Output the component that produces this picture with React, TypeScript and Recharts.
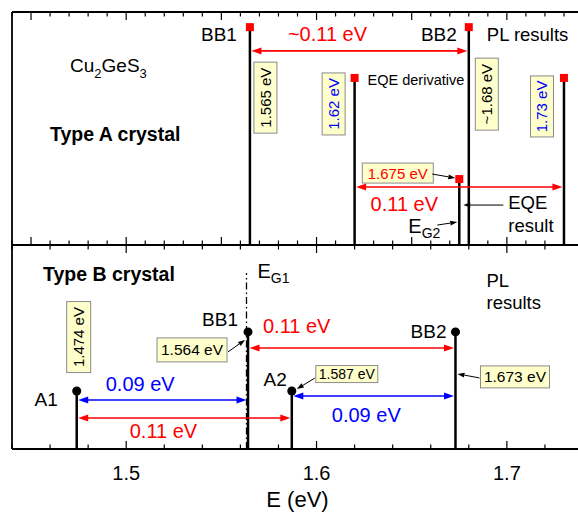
import React from 'react'
import { ComposedChart, XAxis, YAxis, Scatter, ReferenceLine, ReferenceDot } from 'recharts'

const FONT = '"Liberation Sans", Arial, Helvetica, sans-serif'
const RED = '#ff0000'
const BLUE = '#0000ff'

// Type A crystal: PL bands, EQE derivative peaks and EQE edge
const plPeaksA = ['BB1', 'BB2']
const plEnergyA = [1.565, 1.68]
const plHeightA = [93.5, 93.5]
const eqeDerivEnergyA = [1.62, 1.73]
const eqeDerivHeightA = [71.7, 71.7]
const eqeResultEnergyA = [1.675]
const eqeResultHeightA = [28.3]

// Type B crystal: PL bands and the E_G1 marker
const plPeaksB = ['A1', 'BB1', 'A2', 'BB2']
const plEnergyB = [1.474, 1.564, 1.587, 1.673]
const plHeightB = [28.4, 57.4, 28.4, 57.4]
const eg1Energy = 1.5632
const eg1Height = 86.3

// energy-gap arrows (levels in panel units)
const gapLevelA = [83.3, 24.9]
const gapLevelB = [49.5, 24.0, 15.2, 26.0]

const xDomain: [number, number] = [1.44, 1.74]
const majorTicksA = [1.45, 1.5, 1.55, 1.6, 1.65, 1.7]
const majorTicksB = [1.5, 1.6, 1.7]
const tickLabelsB = ['1.5', '1.6', '1.7']

const tickRange = (from: number, to: number, step: number) => {
  const n = Math.round((to - from) / step)
  const out: number[] = []
  for (let i = 0; i <= n; i++) out.push(Math.round((from + i * step) * 1000) / 1000)
  return out
}
const minorTicksA = tickRange(1.44, 1.74, 0.01)
const minorTicksB = tickRange(1.44, 1.74, 0.02)

const toPoints = (xs: number[], ys: number[]) => xs.map((e, i) => ({ e, h: ys[i] }))

const pointsA = [
  ...toPoints(plEnergyA, plHeightA),
  ...toPoints(eqeDerivEnergyA, eqeDerivHeightA),
  ...toPoints(eqeResultEnergyA, eqeResultHeightA),
]
const pointsB = toPoints(plEnergyB, plHeightB)

function Tag({ x, y, w, h, text, color = '#000', size = 15, vertical = false }: any) {
  return (
    <g>
      <rect x={x - w / 2} y={y - h / 2} width={w} height={h} fill="#ffffcc" stroke="#8a8a8a" strokeWidth={1} />
      <text
        x={x}
        y={y}
        transform={vertical ? `rotate(-90 ${x} ${y})` : undefined}
        textAnchor="middle"
        dominantBaseline="central"
        fill={color}
        fontSize={size}
        fontFamily={FONT}
      >
        {text}
      </text>
    </g>
  )
}

function Pointer({ x1, y1, x2, y2 }: any) {
  const a = Math.atan2(y2 - y1, x2 - x1)
  const L = 7
  const W = 2.5
  const bx = x2 - L * Math.cos(a)
  const by = y2 - L * Math.sin(a)
  return (
    <g>
      <line x1={x1} y1={y1} x2={bx} y2={by} stroke="#000" strokeWidth={1} />
      <polygon
        points={`${x2},${y2} ${bx - W * Math.sin(a)},${by + W * Math.cos(a)} ${bx + W * Math.sin(a)},${by - W * Math.cos(a)}`}
        fill="#000"
      />
    </g>
  )
}

function Txt({ x, y, children, size = 19, color = '#000', anchor = 'start', bold = false }: any) {
  return (
    <text x={x} y={y} fontSize={size} fill={color} textAnchor={anchor} fontFamily={FONT} fontWeight={bold ? 'bold' : 'normal'}>
      {children}
    </text>
  )
}

const doubleArrow = (color: string) => (p: any) => {
  const { x1, y1, x2 } = p
  const L = 10
  const W = 3.5
  return (
    <g>
      <line x1={x1 + L} y1={y1} x2={x2 - L} y2={y1} stroke={color} strokeWidth={1.6} />
      <polygon points={`${x1 + 1.5},${y1} ${x1 + 1.5 + L},${y1 - W} ${x1 + 1.5 + L},${y1 + W}`} fill={color} />
      <polygon points={`${x2 - 1.5},${y1} ${x2 - 1.5 - L},${y1 - W} ${x2 - 1.5 - L},${y1 + W}`} fill={color} />
    </g>
  )
}

// tick marks drawn inward from the frame; long ones on the major values
const frameTick = (major: number[], dir: number, labels?: string[]) => (p: any) => {
  const v = p.payload.value
  const mi = major.findIndex(m => Math.abs(m - v) < 1e-6)
  const len = mi >= 0 ? 8 : 4.5
  return (
    <g>
      <line x1={p.x} y1={p.y} x2={p.x} y2={p.y + dir * len} stroke="#000" strokeWidth={1.2} />
      {labels && mi >= 0 && (
        <text x={p.x} y={p.y + 31} textAnchor="middle" fontSize={20} fill="#000" fontFamily={FONT}>
          {labels[mi]}
        </text>
      )}
    </g>
  )
}

const note = (key: string, x: number, y: number, draw: (cx: number, cy: number) => React.ReactNode) => (
  <ReferenceDot
    key={key}
    x={x}
    y={y}
    r={0}
    ifOverflow="visible"
    shape={(p: any) => <g>{draw(p.cx, p.cy)}</g>}
  />
)

const stick = (key: string, e: number, h: number) => (
  <ReferenceLine
    key={key}
    segment={[{ x: e, y: 0 }, { x: e, y: h }]}
    stroke="#000"
    strokeWidth={2.5}
  />
)

const gap = (key: string, from: number, to: number, level: number, color: string) => (
  <ReferenceLine
    key={key}
    segment={[{ x: from, y: level }, { x: to, y: level }]}
    stroke={color}
    shape={doubleArrow(color)}
  />
)

const axisLine = { stroke: '#000', strokeWidth: 1.8 }

function TypeAPanel() {
  const [bb1, bb2] = plEnergyA
  const [d1, d2] = eqeDerivEnergyA
  const eqe = eqeResultEnergyA[0]
  return (
    <ComposedChart width={600} height={250} data={pointsA} margin={{ top: 0, right: 17, bottom: 0, left: 11 }}>
      <XAxis xAxisId={0} dataKey="e" type="number" domain={xDomain} allowDataOverflow ticks={minorTicksA} interval={0}
        orientation="bottom" height={5} tickSize={0} tickMargin={0} tickLine={false} axisLine={axisLine}
        tick={frameTick(majorTicksA, -1)} />
      <XAxis xAxisId="top" dataKey="e" type="number" domain={xDomain} allowDataOverflow ticks={minorTicksA} interval={0}
        orientation="top" height={12} tickSize={0} tickMargin={0} tickLine={false} axisLine={axisLine}
        tick={frameTick(majorTicksA, 1)} />
      <YAxis dataKey="h" type="number" domain={[0, 100]} width={1} tick={false} tickLine={false} axisLine={axisLine} />
      {plEnergyA.map((e, i) => stick(`pl${i}`, e, plHeightA[i]))}
      {eqeDerivEnergyA.map((e, i) => stick(`dv${i}`, e, eqeDerivHeightA[i]))}
      {eqeResultEnergyA.map((e, i) => stick(`eq${i}`, e, eqeResultHeightA[i]))}
      {gap('g0', bb1, bb2, gapLevelA[0], RED)}
      {gap('g1', d1, d2, gapLevelA[1], RED)}
      <Scatter data={pointsA} fill={RED} shape="square" isAnimationActive={false} />

      {note('corner', xDomain[0], 100, (cx, cy) => (
        <>
          <text x={cx + 58} y={cy + 60} fontSize={19} fontFamily={FONT}>
            Cu<tspan dy={6} fontSize={13}>2</tspan>
            <tspan dy={-6}>GeS</tspan>
            <tspan dy={6} fontSize={13}>3</tspan>
          </text>
          <Txt x={cx + 38} y={cy + 129} size={19.5} bold>Type A crystal</Txt>
        </>
      ))}
      {note('bb1', bb1, plHeightA[0], (cx, cy) => (
        <>
          <Txt x={cx - 13} y={cy + 14} anchor="end">{plPeaksA[0]}</Txt>
          <Tag x={cx + 15.5} y={cy + 70.5} w={23} h={71} text="1.565 eV" vertical />
        </>
      ))}
      {note('bb2', bb2, plHeightA[1], (cx, cy) => (
        <>
          <Txt x={cx - 12} y={cy + 14} anchor="end">{plPeaksA[1]}</Txt>
          <Txt x={cx + 18} y={cy + 14} size={18.5}>PL results</Txt>
          <Tag x={cx + 18} y={cy + 67} w={23} h={72} text="~1.68 eV" vertical />
        </>
      ))}
      {note('gA0', bb1, gapLevelA[0], (cx, cy) => (
        <Txt x={cx + 38} y={cy - 10} size={20} color={RED}>~0.11 eV</Txt>
      ))}
      {note('d1', d1, eqeDerivHeightA[0], (cx, cy) => (
        <>
          <Txt x={cx + 13} y={cy + 7} size={14.5}>EQE derivative</Txt>
          <Tag x={cx - 21} y={cy + 26} w={23} h={62} text="1.62 eV" color={BLUE} vertical />
        </>
      ))}
      {note('d2', d2, eqeDerivHeightA[1], (cx, cy) => (
        <Tag x={cx - 22} y={cy + 28.5} w={23} h={61} text="1.73 eV" color={BLUE} vertical />
      ))}
      {note('eqe', eqe, eqeResultHeightA[0], (cx, cy) => (
        <>
          <Tag x={cx - 61.5} y={cy - 6} w={71} h={20} text="1.675 eV" color={RED} />
          <Pointer x1={cx - 27} y1={cy - 5} x2={cx - 4} y2={cy - 1} />
          <Txt x={cx + 49} y={cy + 30} size={18.5}>EQE</Txt>
          <Txt x={cx + 49} y={cy + 53} size={18.5}>result</Txt>
          <Pointer x1={cx + 44} y1={cy + 26} x2={cx + 4} y2={cy + 26} />
          <text x={cx - 51} y={cy + 54} fontSize={20} fontFamily={FONT}>
            E<tspan dy={5} fontSize={14}>G2</tspan>
          </text>
          <Pointer x1={cx - 22} y1={cy + 46} x2={cx - 2} y2={cy + 43} />
        </>
      ))}
      {note('gA1', d1, gapLevelA[1], (cx, cy) => (
        <Txt x={cx + 16} y={cy + 24} size={20} color={RED}>0.11 eV</Txt>
      ))}
    </ComposedChart>
  )
}

function TypeBPanel() {
  const [a1, bb1, a2, bb2] = plEnergyB
  const [hA1, hBB1, hA2, hBB2] = plHeightB
  return (
    <ComposedChart width={600} height={277} data={pointsB} margin={{ top: 0, right: 17, bottom: 0, left: 11 }}>
      <XAxis xAxisId={0} dataKey="e" type="number" domain={xDomain} allowDataOverflow ticks={minorTicksB} interval={0}
        orientation="bottom" height={68} tickSize={0} tickMargin={0} tickLine={false} axisLine={axisLine}
        tick={frameTick(majorTicksB, -1, tickLabelsB)}
        label={{ value: 'E (eV)', position: 'insideBottom', offset: 10, fontSize: 22, fill: '#000', fontFamily: FONT }} />
      <XAxis xAxisId="top" dataKey="e" type="number" domain={xDomain} allowDataOverflow ticks={minorTicksB} interval={0}
        orientation="top" height={5} tickSize={0} tickMargin={0} tickLine={false} axisLine={axisLine}
        tick={frameTick(majorTicksB, 1)} />
      <YAxis dataKey="h" type="number" domain={[0, 100]} width={1} tick={false} tickLine={false} axisLine={axisLine} />
      <ReferenceLine
        segment={[{ x: eg1Energy, y: 0 }, { x: eg1Energy, y: eg1Height }]}
        stroke="#000"
        strokeWidth={1.3}
        strokeDasharray="7 3 1.5 3"
      />
      {plEnergyB.map((e, i) => stick(`b${i}`, e, plHeightB[i]))}
      {gap('gb0', bb1, bb2, gapLevelB[0], RED)}
      {gap('gb1', a1, bb1, gapLevelB[1], BLUE)}
      {gap('gb2', a1, a2, gapLevelB[2], RED)}
      {gap('gb3', a2, bb2, gapLevelB[3], BLUE)}
      <Scatter data={pointsB} fill="#000" shape="circle" isAnimationActive={false} />

      {note('cornerB', xDomain[0], 100, (cx, cy) => (
        <Txt x={cx + 31} y={cy + 36} size={19.5} bold>Type B crystal</Txt>
      ))}
      {note('eg1', eg1Energy, eg1Height, (cx, cy) => (
        <text x={cx + 11} y={cy + 5} fontSize={20} fontFamily={FONT}>
          E<tspan dy={5} fontSize={14}>G1</tspan>
        </text>
      ))}
      {note('a1', a1, hA1, (cx, cy) => (
        <>
          <Txt x={cx - 19} y={cy + 15} anchor="end">{plPeaksB[0]}</Txt>
          <Tag x={cx + 2} y={cy - 54} w={24} h={71} text="1.474 eV" vertical />
        </>
      ))}
      {note('bb1', bb1, hBB1, (cx, cy) => (
        <>
          <Txt x={cx - 10} y={cy - 6} anchor="end">{plPeaksB[1]}</Txt>
          <Tag x={cx - 56} y={cy + 18} w={70} h={24} text="1.564 eV" size={15.5} />
          <Pointer x1={cx - 20} y1={cy + 20} x2={cx - 3} y2={cy + 8} />
        </>
      ))}
      {note('a2', a2, hA2, (cx, cy) => (
        <>
          <Txt x={cx - 5} y={cy - 5} anchor="end">{plPeaksB[2]}</Txt>
          <Tag x={cx + 55} y={cy - 17} w={62} h={17} text="1.587 eV" size={14} />
          <Pointer x1={cx + 23} y1={cy - 13} x2={cx + 5} y2={cy - 2} />
        </>
      ))}
      {note('bb2', bb2, hBB2, (cx, cy) => (
        <>
          <Txt x={cx - 9} y={cy + 6} anchor="end">{plPeaksB[3]}</Txt>
          <Txt x={cx + 31} y={cy - 45} size={18.5}>PL</Txt>
          <Txt x={cx + 31} y={cy - 23} size={18.5}>results</Txt>
          <Tag x={cx + 59.5} y={cy + 45} w={69} h={22} text="1.673 eV" size={15.5} />
          <Pointer x1={cx + 24} y1={cy + 46} x2={cx + 2} y2={cy + 42} />
        </>
      ))}
      {note('gb0t', bb1, gapLevelB[0], (cx, cy) => (
        <Txt x={cx + 15} y={cy - 15} size={20} color={RED}>0.11 eV</Txt>
      ))}
      {note('gb1t', a1, gapLevelB[1], (cx, cy) => (
        <Txt x={cx + 29} y={cy - 9} size={20} color={BLUE}>0.09 eV</Txt>
      ))}
      {note('gb2t', a1, gapLevelB[2], (cx, cy) => (
        <Txt x={cx + 53} y={cy + 20} size={20} color={RED}>0.11 eV</Txt>
      ))}
      {note('gb3t', a2, gapLevelB[3], (cx, cy) => (
        <Txt x={cx + 40} y={cy + 26} size={20} color={BLUE}>0.09 eV</Txt>
      ))}
    </ComposedChart>
  )
}

export default function App() {
  return (
    <div style={{ position: 'absolute', left: 0, top: 0, width: 578, height: 517, overflow: 'hidden', background: '#fff' }}>
      <div style={{ position: 'absolute', left: 0, top: 0 }}>
        <TypeAPanel />
      </div>
      <div style={{ position: 'absolute', left: 0, top: 240 }}>
        <TypeBPanel />
      </div>
    </div>
  )
}
